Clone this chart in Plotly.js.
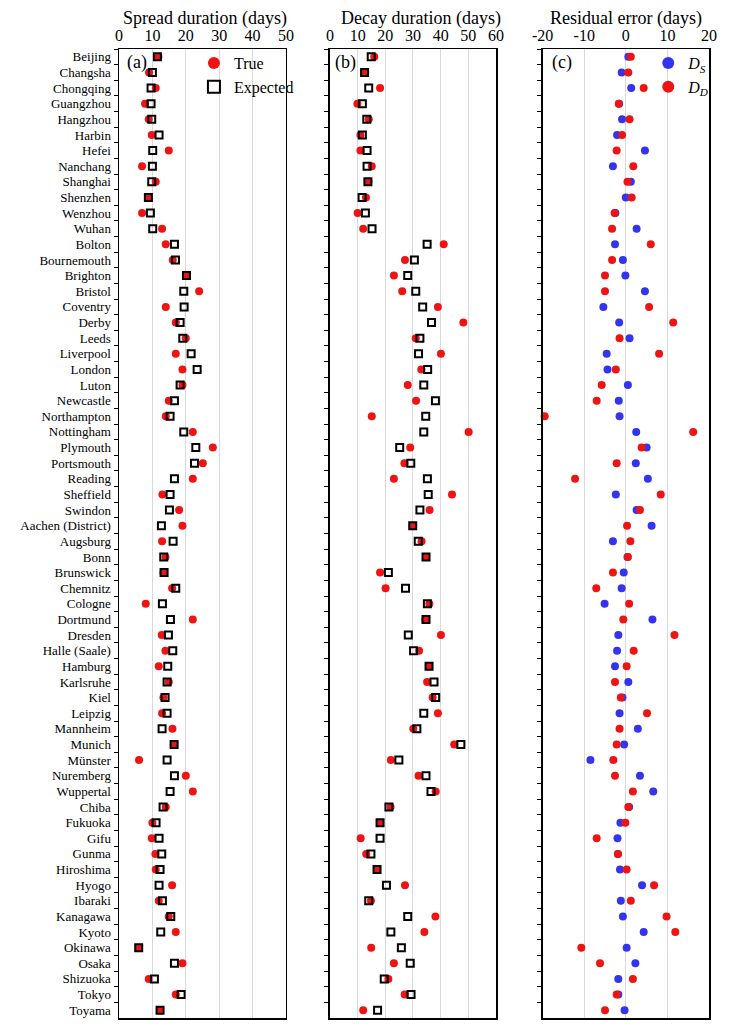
<!DOCTYPE html>
<html>
<head>
<meta charset="utf-8">
<script src="https://cdn.plot.ly/plotly-3.0.1.min.js"></script>
<style>html,body{margin:0;padding:0;background:#fff;}#chart{width:734px;height:1028px;}</style>
</head>
<body>
<div id="chart"></div>
<script>
const cities = ["Beijing","Changsha","Chongqing","Guangzhou","Hangzhou","Harbin","Hefei","Nanchang","Shanghai","Shenzhen","Wenzhou","Wuhan",
"Bolton","Bournemouth","Brighton","Bristol","Coventry","Derby","Leeds","Liverpool","London","Luton","Newcastle","Northampton","Nottingham","Plymouth","Portsmouth","Reading","Sheffield","Swindon",
"Aachen (District)","Augsburg","Bonn","Brunswick","Chemnitz","Cologne","Dortmund","Dresden","Halle (Saale)","Hamburg","Karlsruhe","Kiel","Leipzig","Mannheim","Munich","Münster","Nuremberg","Wuppertal",
"Chiba","Fukuoka","Gifu","Gunma","Hiroshima","Hyogo","Ibaraki","Kanagawa","Kyoto","Okinawa","Osaka","Shizuoka","Tokyo","Toyama"];

const spreadTrue = [11.8,9.0,11.0,7.8,8.9,9.8,14.9,6.9,11.0,8.8,6.9,12.9,
14.0,16.1,20.2,24.0,14.0,17.0,20.0,17.0,19.0,19.0,14.9,14.0,22.1,28.1,25.1,22.1,13.0,18.0,
19.0,12.9,13.9,13.3,15.9,8.0,22.1,12.8,13.9,11.9,14.9,13.3,12.9,16.0,16.4,6.0,20.0,22.1,
14.0,10.0,9.8,10.9,11.0,15.9,11.9,14.9,17.0,5.9,19.0,8.9,17.0,12.3];
const spreadExp = [11.5,10.0,9.6,9.6,9.8,12.0,10.1,10.0,9.8,8.8,9.4,10.1,
16.6,16.9,20.2,19.4,19.5,18.3,19.1,21.6,23.4,18.3,16.6,15.3,19.4,23.0,22.6,16.6,15.3,15.1,
12.7,16.2,13.4,13.5,17.0,13.0,15.4,14.8,16.1,14.6,14.4,13.8,14.4,12.9,16.5,14.4,16.6,15.3,
13.2,11.1,12.0,12.8,12.3,12.0,13.0,15.5,12.5,5.9,16.6,10.6,18.6,12.3];
const decayTrue = [16.0,12.7,18.1,9.9,14.0,11.0,11.0,15.1,13.9,13.0,10.0,12.0,
41.1,27.1,23.1,26.1,39.0,48.2,31.0,40.1,33.0,28.1,31.1,15.1,50.1,29.0,26.9,23.1,44.1,36.0,
29.9,33.1,34.7,18.1,20.1,35.9,34.5,40.1,32.2,35.8,35.1,37.1,39.0,30.1,44.9,22.0,32.0,38.2,
21.9,18.1,11.1,13.1,17.0,27.1,14.8,38.1,34.1,14.9,23.1,21.1,27.0,12.0];
const decayExp = [14.9,12.5,14.0,11.7,13.3,11.7,13.4,13.4,13.7,11.6,12.8,15.2,
35.1,30.5,28.1,31.0,33.5,36.7,32.5,32.0,35.3,33.9,38.1,34.6,33.9,25.2,29.2,35.2,35.5,32.5,
29.9,31.9,34.7,21.1,27.3,35.2,34.7,28.3,30.2,35.8,37.6,38.2,33.9,31.4,47.3,24.9,34.7,36.5,
21.3,18.1,18.1,14.8,17.0,20.4,14.0,28.1,22.0,25.8,29.0,19.6,29.3,17.2];
const resDS = [0.6,-1.0,1.3,-1.6,-0.9,-2.1,4.6,-3.1,1.2,0.0,-2.5,2.6,
-2.6,-0.7,-0.1,4.6,-5.4,-1.6,0.9,-4.6,-4.4,0.5,-1.7,-1.5,2.5,5.0,2.4,5.3,-2.4,2.6,
6.2,-3.1,0.4,-0.5,-1.0,-5.1,6.4,-1.8,-2.1,-2.6,0.6,-0.8,-1.5,2.9,-0.4,-8.5,3.4,6.6,
0.8,-1.3,-2.0,-1.9,-1.4,3.9,-1.2,-0.7,4.3,0.2,2.3,-1.8,-1.8,-0.3];
const resDD = [1.2,0.6,4.3,-1.7,0.9,-0.9,-2.2,1.8,0.4,1.4,-2.7,-3.3,
6.0,-3.3,-5.0,-5.0,5.6,11.4,-1.5,8.0,-2.4,-5.8,-7.0,-19.5,16.2,3.8,-2.2,-12.2,8.4,3.4,
0.3,1.1,0.5,-3.1,-7.1,0.8,-0.6,11.7,1.9,0.2,-2.6,-1.2,5.1,-1.5,-2.2,-3.0,-2.6,1.7,
0.6,-0.1,-7.0,-1.9,0.2,6.8,1.2,9.8,11.9,-10.7,-6.2,1.7,-2.2,-5.0];

const RED = 'rgb(238,20,20)';
const BLUE = 'rgb(52,52,238)';
const FONT = 'Liberation Serif, Times New Roman, serif';

function dots(x, xa, ya, color, name, show, legend) {
  return {type:'scatter', mode:'markers', x:x, y:cities, xaxis:xa, yaxis:ya, name:name,
    showlegend:show, legend:legend, marker:{symbol:'circle', size:8, color:color, line:{width:0}}, cliponaxis:false};
}
function squares(x, xa, ya, show) {
  return {type:'scatter', mode:'markers', x:x, y:cities, xaxis:xa, yaxis:ya, name:'Expected',
    showlegend:show, legend:'legend', marker:{symbol:'square-open', size:7, color:'black', line:{width:2, color:'black'}}, cliponaxis:false};
}

const traces = [
  dots(spreadTrue,'x','y',RED,'True',true,'legend'),
  squares(spreadExp,'x','y',true),
  dots(decayTrue,'x2','y2',RED,'True',false,'legend'),
  squares(decayExp,'x2','y2',false),
  dots(resDS,'x3','y3',BLUE,'<i>D<sub>S</sub></i>',true,'legend2'),
  dots(resDD,'x3','y3',RED,'<i>D<sub>D</sub></i>',true,'legend2')
];

function xax(dom, range, anchor, extra) {
  return Object.assign({domain:dom, range:range, anchor:anchor, side:'top', dtick:10, tick0:0,
    showgrid:true, gridcolor:'#d9d9d9', gridwidth:1, zeroline:false,
    showline:true, mirror:true, linecolor:'black', linewidth:1.5, ticks:'',
    tickfont:{family:FONT, size:16, color:'black'}, fixedrange:true}, extra||{});
}
function yax(anchor, labels) {
  return {domain:[0,1], anchor:anchor, type:'category', categoryorder:'array', categoryarray:cities,
    range:[cities.length-0.5, -0.5], tickmode:'linear', tick0:0, dtick:1,
    tickson:'boundaries', ticks:'outside', ticklen:4, tickwidth:1, tickcolor:'black', ticklabelstandoff:4,
    showticklabels:labels, showgrid:false, zeroline:false, showline:true, mirror:true, linecolor:'black', linewidth:1.5,
    tickfont:{family:FONT, size:13, color:'black'}, fixedrange:true};
}

const layout = {
  width:734, height:1028,
  margin:{l:119, r:25, t:49, b:10},
  paper_bgcolor:'white', plot_bgcolor:'white',
  font:{family:FONT, color:'black'},
  xaxis: xax([0,0.283],[0,50],'y'),
  xaxis2: xax([0.3576,0.639],[0,60],'y2'),
  xaxis3: xax([0.718,1],[-20,20],'y3',{tickvals:[-20,-10,0,10,20], ticktext:['-20','-10','0','10','20']}),
  yaxis: yax('x', true),
  yaxis2: yax('x2', false),
  yaxis3: yax('x3', false),
  legend:{x:0.127, y:1.003, xanchor:'left', yanchor:'top', bgcolor:'rgba(0,0,0,0)', borderwidth:0,
    font:{family:FONT, size:16, color:'black'}, itemsizing:'constant', tracegroupgap:0},
  legend2:{x:0.897, y:1.003, xanchor:'left', yanchor:'top', bgcolor:'rgba(0,0,0,0)', borderwidth:0,
    font:{family:FONT, size:16, color:'black'}, itemsizing:'constant'},
  showlegend:true,
  annotations:[
    {text:'Spread duration (days)', xref:'paper', yref:'paper', x:0.146, y:1.031, xanchor:'center', yanchor:'middle', showarrow:false, font:{family:FONT, size:18, color:'black'}},
    {text:'Decay duration (days)', xref:'paper', yref:'paper', x:0.512, y:1.031, xanchor:'center', yanchor:'middle', showarrow:false, font:{family:FONT, size:18, color:'black'}},
    {text:'Residual error (days)', xref:'paper', yref:'paper', x:0.859, y:1.031, xanchor:'center', yanchor:'middle', showarrow:false, font:{family:FONT, size:18, color:'black'}},
    {text:'(a)', xref:'paper', yref:'paper', x:0.0102, y:0.9856, xanchor:'left', yanchor:'middle', showarrow:false, font:{family:FONT, size:18, color:'black'}},
    {text:'(b)', xref:'paper', yref:'paper', x:0.3627, y:0.9856, xanchor:'left', yanchor:'middle', showarrow:false, font:{family:FONT, size:18, color:'black'}},
    {text:'(c)', xref:'paper', yref:'paper', x:0.7305, y:0.9856, xanchor:'left', yanchor:'middle', showarrow:false, font:{family:FONT, size:18, color:'black'}}
  ]
};

Plotly.newPlot('chart', traces, layout, {staticPlot:true, displayModeBar:false});
</script>
</body>
</html>
